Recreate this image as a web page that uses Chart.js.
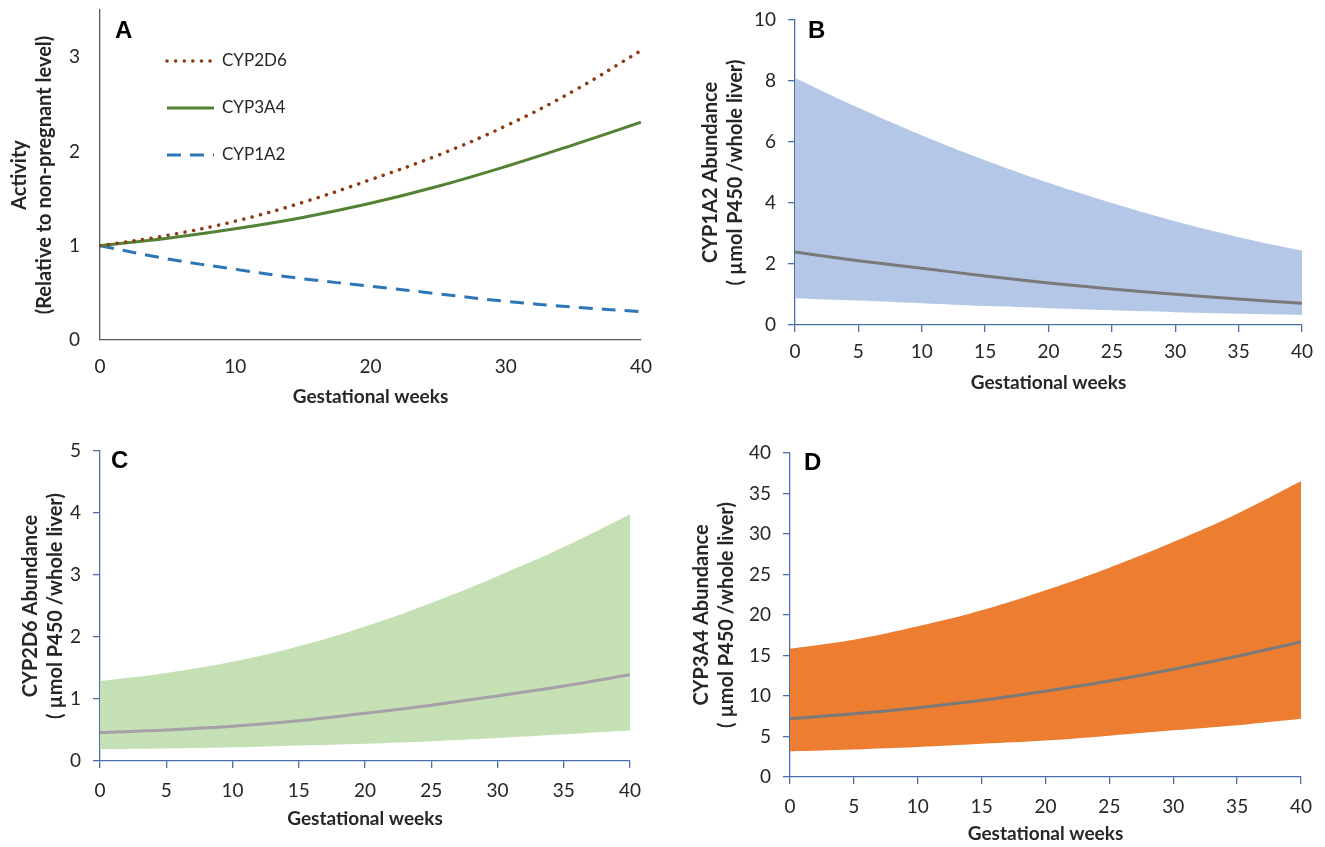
<!DOCTYPE html>
<html>
<head>
<meta charset="utf-8">
<script src="https://cdn.jsdelivr.net/npm/chart.js@4.4.0/dist/chart.umd.min.js"></script>
<style>
body { margin: 0; background: #fff; width: 1325px; height: 847px; position: relative; overflow: hidden; }
.panel { position: absolute; }
</style>
</head>
<body>
<div class="panel" style="left:0px;top:0px"><canvas id="chartA" width="660" height="420"></canvas></div>
<div class="panel" style="left:660px;top:0px"><canvas id="chartB" width="665" height="420"></canvas></div>
<div class="panel" style="left:0px;top:430px"><canvas id="chartC" width="660" height="417"></canvas></div>
<div class="panel" style="left:660px;top:430px"><canvas id="chartD" width="665" height="417"></canvas></div>
<script>
// gestational weeks sampled every 5 weeks
var weeks = [0, 5, 10, 15, 20, 25, 30, 35, 40]

// A: activity relative to non-pregnant level
var cyp2d6Activity = [1.0, 1.11, 1.26, 1.46, 1.70, 1.96, 2.27, 2.64, 3.07]
var cyp3a4Activity = [1.0, 1.08, 1.18, 1.30, 1.45, 1.63, 1.84, 2.07, 2.31]
var cyp1a2Activity = [1.0, 0.86, 0.75, 0.65, 0.57, 0.49, 0.41, 0.35, 0.30]

// B: CYP1A2 abundance
var cyp1a2Upper  = [8.10, 7.12, 6.22, 5.40, 4.66, 4.00, 3.40, 2.88, 2.44]
var cyp1a2Median = [2.39, 2.11, 1.86, 1.61, 1.38, 1.18, 1.01, 0.85, 0.71]
var cyp1a2Lower  = [0.88, 0.80, 0.71, 0.62, 0.55, 0.48, 0.42, 0.37, 0.33]

// C: CYP2D6 abundance
var cyp2d6Upper  = [1.29, 1.42, 1.60, 1.85, 2.17, 2.55, 2.98, 3.45, 3.98]
var cyp2d6Median = [0.46, 0.50, 0.56, 0.65, 0.77, 0.90, 1.05, 1.21, 1.39]
var cyp2d6Lower  = [0.19, 0.20, 0.22, 0.25, 0.28, 0.32, 0.37, 0.43, 0.49]

// D: CYP3A4 abundance
var cyp3a4Upper  = [15.84, 16.95, 18.6, 20.58, 23.05, 25.84, 29.0, 32.5, 36.5]
var cyp3a4Median = [7.2, 7.8, 8.56, 9.47, 10.6, 11.85, 13.3, 14.9, 16.67]
var cyp3a4Lower  = [3.17, 3.4, 3.7, 4.1, 4.5, 5.1, 5.76, 6.4, 7.2]

var textColor = "#262626"
var blueAxis = "#4a70a8"

function pts(values){
    return weeks.map((w, i) => ({x: w, y: values[i]}))
}

// bold panel letter in the top-left of the plot area
var panelLetter = {
    id: "panelLetter",
    afterDraw(chart, args, opts){
        const ctx = chart.ctx
        const area = chart.chartArea
        ctx.save()
        ctx.font = "bold 24px 'Liberation Sans', Arial, sans-serif"
        ctx.fillStyle = "#000"
        ctx.textBaseline = "middle"
        ctx.fillText(opts.text, area.left + opts.dx, area.top + opts.dy)
        ctx.restore()
    }
}

// legend drawn inside panel A, using each dataset's line style
var insideLegend = {
    id: "insideLegend",
    afterDraw(chart, args, opts){
        if(!opts.show) return
        const ctx = chart.ctx
        const area = chart.chartArea
        chart.data.datasets.forEach((ds, i) => {
            let y = area.top + 51 + i*47
            let x0 = area.left + 67
            ctx.save()
            ctx.strokeStyle = ds.borderColor
            ctx.lineWidth = ds.borderWidth
            ctx.lineCap = ds.borderCapStyle || "butt"
            ctx.setLineDash(ds.borderDash || [])
            ctx.beginPath()
            ctx.moveTo(x0, y)
            ctx.lineTo(x0 + 47, y)
            ctx.stroke()
            ctx.setLineDash([])
            ctx.font = "17px Lato, sans-serif"
            ctx.fillStyle = textColor
            ctx.textBaseline = "middle"
            ctx.fillText(ds.label, x0 + 55, y)
            ctx.restore()
        })
    }
}

function makeChart(id, cfg){
    const ctx = document.getElementById(id)
    const axisColor = cfg.axisColor
    return new Chart(ctx, {
        type: "line",
        data: {datasets: cfg.datasets},
        options: {
            responsive: false,
            animation: false,
            layout: {padding: {top: cfg.padTop, right: cfg.padRight, left: 0, bottom: 0}},
            elements: {point: {radius: 0}, line: {tension: 0.4}},
            plugins: {
                legend: {display: false},
                tooltip: {enabled: false},
                panelLetter: cfg.letter,
                insideLegend: {show: !!cfg.legend}
            },
            scales: {
                x: {
                    type: "linear",
                    min: 0, max: 40,
                    afterFit(scale){ scale.height = cfg.xHeight },
                    ticks: {stepSize: cfg.xStep, autoSkip: false, maxRotation: 0, padding: cfg.xTickPad,
                        color: textColor, font: {family: "Lato", size: 19}},
                    grid: {display: cfg.tickMarks, drawOnChartArea: false, drawTicks: true, tickLength: 7,
                        color: axisColor, lineWidth: 1.3},
                    border: {display: true, color: axisColor, width: 1.3},
                    title: {display: true, text: "Gestational weeks", color: textColor,
                        font: {family: "Lato", size: 19, weight: "bold", lineHeight: 1.2},
                        padding: {top: 0, bottom: cfg.xTitlePad}}
                },
                y: {
                    min: 0, max: cfg.yMax,
                    afterFit(scale){
                        scale.width = cfg.yWidth
                        // keep the plot top at the layout padding
                        scale.paddingTop = 0
                        scale.paddingBottom = 0
                    },
                    afterBuildTicks(scale){
                        scale.ticks = scale.ticks.filter(t => Math.abs(t.value/cfg.yStep - Math.round(t.value/cfg.yStep)) < 1e-6)
                    },
                    ticks: {stepSize: cfg.yStep, padding: cfg.yTickPad, color: textColor,
                        font: {family: "Lato", size: 19}},
                    grid: {display: cfg.tickMarks, drawOnChartArea: false, drawTicks: true, tickLength: 7,
                        color: axisColor, lineWidth: 1.3},
                    border: {display: true, color: axisColor, width: 1.3},
                    title: {display: true, text: cfg.yTitle, color: textColor,
                        font: {family: "Lato", size: 20, weight: "bold", lineHeight: 1.25},
                        padding: {top: cfg.yTitlePad, bottom: 0}}
                }
            }
        },
        plugins: [panelLetter, insideLegend]
    })
}

// median line first so it sits above the shaded band
function band(upper, median, lower, fillColor, lineColor){
    return [
        {label: "median", data: pts(median), borderColor: lineColor, borderWidth: 3, fill: false},
        {label: "upper", data: pts(upper), borderWidth: 0, borderColor: fillColor,
            backgroundColor: fillColor, fill: 2},
        {label: "lower", data: pts(lower), borderWidth: 0, borderColor: fillColor, fill: false}
    ]
}

makeChart("chartA", {
    datasets: [
        {label: "CYP2D6", data: pts(cyp2d6Activity), borderColor: "#8c3b14", borderWidth: 3.5,
            borderDash: [0.1, 8.5], borderCapStyle: "round", fill: false},
        {label: "CYP3A4", data: pts(cyp3a4Activity), borderColor: "#548235", borderWidth: 3, fill: false},
        {label: "CYP1A2", data: pts(cyp1a2Activity), borderColor: "#2e75b6", borderWidth: 3,
            borderDash: [14, 9], fill: false}
    ],
    legend: true,
    axisColor: "#595959", tickMarks: false,
    padTop: 10, padRight: 19, xHeight: 80, yWidth: 100,
    xStep: 10, xTickPad: 8, xTitlePad: 12,
    yMax: 3.5, yStep: 1, yTickPad: 13,
    yTitle: ["Activity", "(Relative to non-pregnant level)"], yTitlePad: 7,
    letter: {text: "A", dx: 15, dy: 21}
})

makeChart("chartB", {
    datasets: band(cyp1a2Upper, cyp1a2Median, cyp1a2Lower, "#b4c7e7", "#7a7a7a"),
    axisColor: blueAxis, tickMarks: true,
    padTop: 20, padRight: 23, xHeight: 95, yWidth: 135,
    xStep: 5, xTickPad: 8, xTitlePad: 26,
    yMax: 10, yStep: 2, yTickPad: 12,
    yTitle: ["CYP1A2 Abundance", "( µmol P450 /whole liver)"], yTitlePad: 38,
    letter: {text: "B", dx: 13, dy: 11}
})

makeChart("chartC", {
    datasets: band(cyp2d6Upper, cyp2d6Median, cyp2d6Lower, "#c5e0b4", "#a59fa8"),
    axisColor: blueAxis, tickMarks: true,
    padTop: 21, padRight: 30, xHeight: 86, yWidth: 100,
    xStep: 5, xTickPad: 11, xTitlePad: 17,
    yMax: 5, yStep: 1, yTickPad: 12,
    yTitle: ["CYP2D6 Abundance", "( µmol P450 /whole liver)"], yTitlePad: 18,
    letter: {text: "C", dx: 11, dy: 10}
})

makeChart("chartD", {
    datasets: band(cyp3a4Upper, cyp3a4Median, cyp3a4Lower, "#ed7d31", "#7a7a7a"),
    axisColor: blueAxis, tickMarks: true,
    padTop: 23, padRight: 24, xHeight: 70, yWidth: 130,
    xStep: 5, xTickPad: 11, xTitlePad: 2,
    yMax: 40, yStep: 5, yTickPad: 12,
    yTitle: ["CYP3A4 Abundance", "( µmol P450 /whole liver)"], yTitlePad: 29,
    letter: {text: "D", dx: 14, dy: 10}
})
</script>
</body>
</html>
